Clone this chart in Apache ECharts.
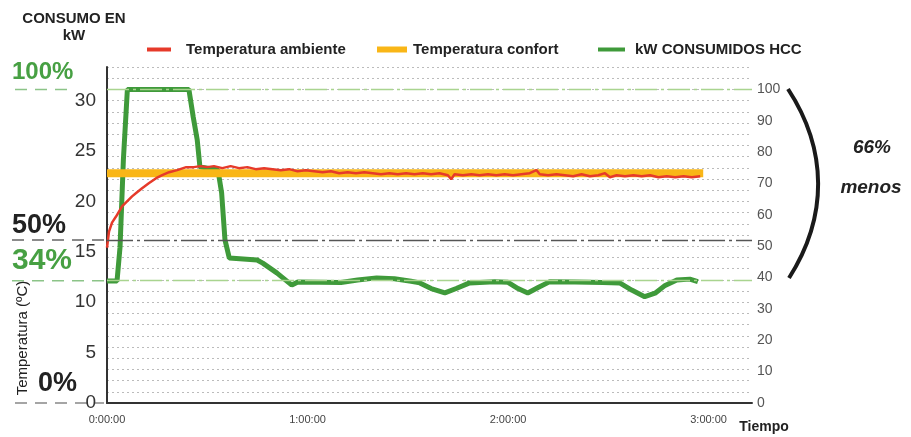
<!DOCTYPE html>
<html>
<head>
<meta charset="utf-8">
<script src="https://cdn.jsdelivr.net/npm/echarts@6/dist/echarts.min.js"></script>
<style>
  body { margin: 0; background: #fff; }
  #chart { width: 911px; height: 437px; }
</style>
</head>
<body>
<div id="chart"></div>
<script>
// time in minutes, temperature in ºC
const redTemp = [
  [0, 15.4], [0.6, 17.0], [1.5, 17.9], [2.7, 18.5], [4.5, 19.5], [6, 20.0], [7.5, 20.5],
  [9, 20.9], [10.5, 21.3], [12.5, 21.8], [14.7, 22.3], [16.5, 22.6], [18.6, 22.9], [21, 23.1],
  [23.7, 23.4], [26, 23.4], [28, 23.5], [30, 23.4], [32, 23.5], [34.5, 23.3], [37, 23.5],
  [39.5, 23.3], [42, 23.4], [44.5, 23.2], [47, 23.3], [49.5, 23.2], [52, 23.1], [54.5, 23.2],
  [57, 23.0], [59.5, 23.1], [62, 23.0], [64.5, 22.9], [67, 23.0], [69.5, 22.8], [72, 22.9],
  [74.5, 22.8], [77, 22.9], [79.5, 22.8], [82, 22.7], [84.5, 22.8], [87, 22.7], [89.5, 22.8],
  [92, 22.7], [94.5, 22.8], [97, 22.7], [99.5, 22.8], [102, 22.6], [103, 22.2], [104, 22.7],
  [106.5, 22.6], [109, 22.7], [111.5, 22.6], [114, 22.7], [116.5, 22.6], [119, 22.7],
  [121.5, 22.6], [124, 22.7], [126.5, 22.8], [128.5, 23.1], [129.5, 22.7], [132, 22.6],
  [134.5, 22.7], [137, 22.6], [139.5, 22.5], [142, 22.7], [144.5, 22.5], [147, 22.6],
  [149, 22.8], [150.5, 22.4], [152.5, 22.6], [155, 22.5], [157.5, 22.6], [160, 22.5],
  [162.5, 22.6], [165, 22.4], [167.5, 22.5], [170, 22.4], [172.5, 22.5], [175, 22.4], [177.5, 22.5]
]
const confortTemp = [[0, 22.8], [178.4, 22.8]]
// consumption, % of the peak (right axis)
const greenKw = [
  [0, 38.9], [3.0, 38.9], [3.9, 49.7], [4.9, 77.5], [6.1, 100], [24.5, 100], [25.8, 91.2],
  [27.0, 83.9], [27.8, 75.3], [33.2, 74.3], [34.3, 67], [35.3, 52], [36.6, 46.2], [44.9, 45.6],
  [46.6, 44.6], [50.8, 41.5], [55.3, 37.6], [57.1, 38.6], [70, 38.4], [75, 39.2], [80.7, 39.9],
  [86, 39.6], [91, 38.8], [93.6, 38.3], [97, 36.5], [101.1, 35.1], [104.5, 36.5], [108.5, 38.3],
  [116, 38.7], [120, 38.5], [123, 36.5], [125.9, 35.1], [129, 36.8], [132.5, 38.7], [140, 38.6],
  [148.3, 38.4], [153.4, 38.3], [157, 36], [160.9, 33.9], [164, 35], [167, 37.5], [170.5, 39.2],
  [174.4, 39.5], [176.8, 38.7]
]
const seriesNames = ['Temperatura ambiente', 'Temperatura confort', 'kW CONSUMIDOS HCC']
const pctLevels = [100, 52, 39, 0]
const pctLabels = ['100%', '50%', '34%', '0%']

const sans = '"Liberation Sans", Arial, sans-serif'
const green = '#3f9a3a'
const red = '#e63a2a'
const orange = '#f9b617'

const legendText = { fontFamily: sans, fontWeight: 'bold', fontSize: 15, color: '#222' }
function legendFor(name, left, w, h, pad) {
  return {
    left: left,
    top: 37,
    icon: 'rect',
    itemWidth: w,
    itemHeight: h,
    data: [name],
    textStyle: Object.assign({ padding: [0, 0, 0, pad] }, legendText)
  }
}

const chart = echarts.init(document.getElementById('chart'))

chart.setOption({
  animation: false,
  grid: { left: 107, right: 159, top: 67, bottom: 34 },
  legend: [
    legendFor(seriesNames[0], 142, 24, 4, 10),
    legendFor(seriesNames[1], 372, 30, 6, 1),
    legendFor(seriesNames[2], 593, 27, 4, 5)
  ],
  xAxis: {
    type: 'value',
    min: 0,
    max: 193,
    interval: 60,
    axisLine: { lineStyle: { color: '#333', width: 2 } },
    axisTick: { show: false },
    splitLine: { show: false },
    axisLabel: {
      showMaxLabel: false,
      margin: 11,
      fontFamily: sans,
      fontSize: 11,
      color: '#444',
      formatter: v => (v / 60) + ':00:00'
    }
  },
  yAxis: [
    {
      type: 'value',
      min: 0,
      max: 100 / 3,
      interval: 5,
      position: 'left',
      axisLine: { show: true, lineStyle: { color: '#333', width: 2 } },
      axisTick: { show: false },
      splitLine: { show: false },
      axisLabel: { showMaxLabel: false, margin: 11, fontFamily: sans, fontSize: 19, color: '#333' }
    },
    {
      type: 'value',
      min: 0,
      max: 750 / 7,
      interval: 10,
      position: 'right',
      axisLine: { show: false },
      axisTick: { show: false },
      splitLine: { show: false },
      axisLabel: { showMaxLabel: false, margin: 5, fontFamily: sans, fontSize: 14, color: '#555' }
    },
    {
      // only for the dotted grid
      type: 'value',
      min: 0,
      max: 30,
      interval: 1,
      position: 'left',
      axisLine: { show: false },
      axisTick: { show: false },
      axisLabel: { show: false },
      splitLine: { lineStyle: { color: '#bbb', type: [2, 3], width: 1 } }
    }
  ],
  series: [
    {
      name: seriesNames[2],
      type: 'line',
      yAxisIndex: 1,
      data: greenKw,
      showSymbol: false,
      itemStyle: { color: green },
      lineStyle: { color: green, width: 5 },
      markLine: {
        silent: true,
        symbol: 'none',
        label: { show: false },
        data: [
          { yAxis: pctLevels[0], lineStyle: { color: '#a9d48f', type: [22, 4, 3, 4], width: 1.4 } },
          { yAxis: pctLevels[1], lineStyle: { color: '#555', type: [26, 4, 3, 4], width: 1.3 } },
          { yAxis: pctLevels[2], lineStyle: { color: '#a9d48f', type: [22, 4, 3, 4], width: 1.4 } }
        ]
      }
    },
    {
      name: seriesNames[1],
      type: 'line',
      data: confortTemp,
      showSymbol: false,
      itemStyle: { color: orange },
      lineStyle: { color: orange, width: 8 }
    },
    {
      name: seriesNames[0],
      type: 'line',
      data: redTemp,
      showSymbol: false,
      itemStyle: { color: red },
      lineStyle: { color: red, width: 2.5 }
    }
  ]
})

// side labels placed on the right-axis levels
const pctStyles = [
  { fill: '#47a043', size: 24, x: 12, dy: -17, stroke: '#8cc488', x1: 15, x2: 68 },
  { fill: '#222', size: 27, x: 12, dy: -14, stroke: '#666', x1: 12, x2: 104 },
  { fill: '#47a043', size: 30, x: 12, dy: -20, stroke: '#8cc488', x1: 12, x2: 104 },
  { fill: '#222', size: 27, x: 38, dy: -19, stroke: '#888', x1: 15, x2: 104 }
]
const graphics = []
pctLevels.forEach((lv, i) => {
  const y = chart.convertToPixel({ yAxisIndex: 1 }, lv)
  const s = pctStyles[i]
  graphics.push({
    type: 'line',
    shape: { x1: s.x1, y1: y, x2: s.x2, y2: y },
    style: { stroke: s.stroke, lineWidth: 1.5, lineDash: [12, 8] }
  })
  graphics.push({
    type: 'text',
    x: s.x,
    y: y + s.dy,
    style: { text: pctLabels[i], fill: s.fill, font: 'bold ' + s.size + 'px ' + sans, verticalAlign: 'middle' }
  })
})

graphics.push(
  {
    type: 'text', x: 74, y: 19,
    style: { text: 'CONSUMO EN', fill: '#222', font: 'bold 15px ' + sans, align: 'center', verticalAlign: 'middle' }
  },
  {
    type: 'text', x: 74, y: 36,
    style: { text: 'kW', fill: '#222', font: 'bold 15px ' + sans, align: 'center', verticalAlign: 'middle' }
  },
  {
    type: 'text', x: 23, y: 338, rotation: Math.PI / 2,
    style: { text: 'Temperatura (ºC)', fill: '#222', font: '15px ' + sans, align: 'center', verticalAlign: 'middle' }
  },
  {
    type: 'text', x: 764, y: 427,
    style: { text: 'Tiempo', fill: '#222', font: 'bold 14px ' + sans, align: 'center', verticalAlign: 'middle' }
  },
  {
    type: 'bezierCurve',
    shape: { x1: 788, y1: 89, cpx1: 828, cpy1: 150, cpx2: 828, cpy2: 217, x2: 789, y2: 278 },
    style: { stroke: '#1a1a1a', lineWidth: 4, fill: null }
  },
  {
    type: 'text', x: 872, y: 148,
    style: { text: '66%', fill: '#222', font: 'italic bold 19px ' + sans, align: 'center', verticalAlign: 'middle' }
  },
  {
    type: 'text', x: 871, y: 188,
    style: { text: 'menos', fill: '#222', font: 'italic bold 19px ' + sans, align: 'center', verticalAlign: 'middle' }
  }
)

chart.setOption({ graphic: graphics })
</script>
</body>
</html>
